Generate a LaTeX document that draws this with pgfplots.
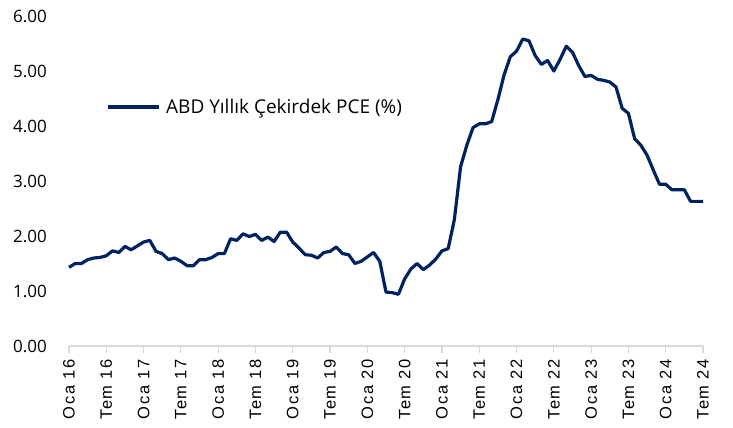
\documentclass[border=0pt]{standalone}
\usepackage{fontspec}
\setmainfont{Open Sans}
\newfontfamily\xfont[LetterSpace=10]{Liberation Sans}
\usepackage{pgfplots}
\pgfplotsset{compat=1.18}
\definecolor{navy}{RGB}{0,35,96}
\definecolor{axgray}{RGB}{217,217,217}
\begin{document}
\begin{tikzpicture}[x=1pt,y=1pt]
\useasboundingbox (0,0) rectangle (733,428);
\begin{axis}[
  at={(69pt,82pt)}, anchor=south west,
  scale only axis, width=634pt, height=330pt,
  xmin=0, xmax=102, ymin=0, ymax=6,
  clip=false,
  axis x line*=bottom, axis y line*=left,
  x axis line style={draw=axgray, line width=1.2pt, -},
  y axis line style={draw=none},
  tick align=outside, major tick length=7pt,
  xtick={0,6,...,102},
  xticklabels={Oca 16,Tem 16,Oca 17,Tem 17,Oca 18,Tem 18,Oca 19,Tem 19,Oca 20,Tem 20,Oca 21,Tem 21,Oca 22,Tem 22,Oca 23,Tem 23,Oca 24,Tem 24},
  xtick style={draw=axgray, line width=1.2pt},
  ytick={0,1,...,6},
  ytick style={draw=none},
  yticklabel style={font=\fontsize{17}{17}\selectfont, inner sep=0pt, xshift=-15pt},
  xticklabel style={font=\xfont\fontsize{16.5}{16.5}\selectfont, rotate=90, anchor=east, inner sep=0pt, inner xsep=6pt},
  /pgf/number format/.cd, fixed, fixed zerofill, precision=2, assume math mode=true,
  /pgfplots/.cd,
  legend style={at={(rel axis cs:0.058,0.724)}, anchor=west, draw=none, fill=none, inner sep=0pt,
    font=\fontsize{19}{19}\selectfont, nodes={inner sep=0pt}},
  legend image code/.code={\draw[#1] (0pt,0pt) -- (51pt,0pt); \path (57pt,0pt);},
]
\addplot[navy, line width=3.2pt, line join=round] coordinates {
(0,1.43)(1,1.50)(2,1.50)(3,1.57)(4,1.60)(5,1.61)(6,1.64)(7,1.73)(8,1.70)(9,1.81)
(10,1.75)(11,1.82)(12,1.89)(13,1.92)(14,1.72)(15,1.68)(16,1.57)(17,1.60)(18,1.54)(19,1.46)
(20,1.46)(21,1.57)(22,1.57)(23,1.61)(24,1.68)(25,1.68)(26,1.95)(27,1.92)(28,2.04)(29,1.99)
(30,2.03)(31,1.92)(32,1.98)(33,1.90)(34,2.07)(35,2.07)(36,1.89)(37,1.78)(38,1.66)(39,1.65)
(40,1.60)(41,1.70)(42,1.72)(43,1.80)(44,1.68)(45,1.66)(46,1.50)(47,1.54)(48,1.62)(49,1.70)
(50,1.54)(51,0.98)(52,0.97)(53,0.94)(54,1.22)(55,1.40)(56,1.50)(57,1.39)(58,1.47)(59,1.58)
(60,1.73)(61,1.77)(62,2.30)(63,3.26)(64,3.65)(65,3.97)(66,4.04)(67,4.04)(68,4.08)(69,4.48)
(70,4.93)(71,5.26)(72,5.36)(73,5.58)(74,5.55)(75,5.28)(76,5.12)(77,5.19)(78,5.00)(79,5.21)
(80,5.45)(81,5.34)(82,5.10)(83,4.90)(84,4.92)(85,4.85)(86,4.83)(87,4.80)(88,4.71)(89,4.32)
(90,4.23)(91,3.77)(92,3.65)(93,3.47)(94,3.20)(95,2.94)(96,2.94)(97,2.84)(98,2.84)(99,2.84)
(100,2.63)(101,2.63)(102,2.63)
};
\addlegendentry{ABD Yıllık Çekirdek PCE (\%)}
\end{axis}
\end{tikzpicture}
\end{document}
